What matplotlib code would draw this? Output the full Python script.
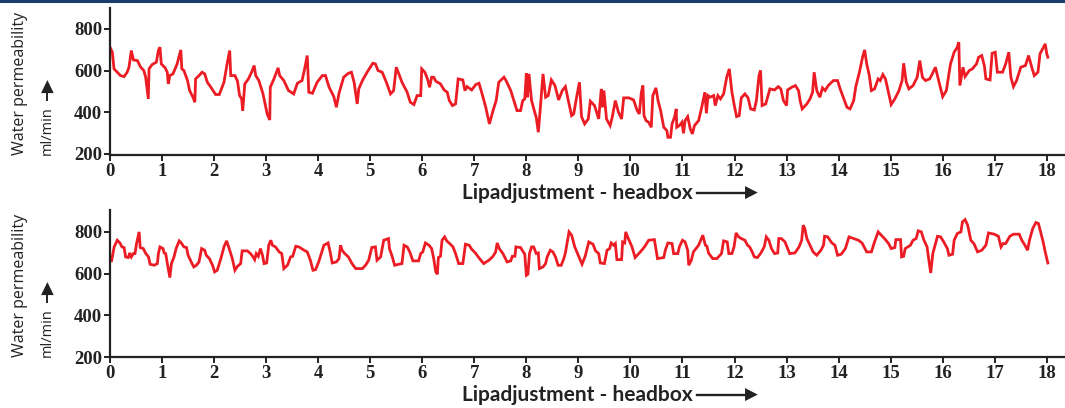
import numpy as np
import matplotlib.pyplot as plt
from matplotlib.lines import Line2D

# top panel: lip adjustment run 1 (x = position, y = water permeability ml/min)
x_top = [0, 0.045, 0.077, 0.14, 0.2, 0.27, 0.33, 0.365, 0.41, 0.45, 0.525, 0.59, 0.65, 0.685, 0.736, 0.75,
         0.81, 0.89, 0.93, 0.96, 0.985, 1.06, 1.1, 1.12, 1.15, 1.21, 1.29, 1.36, 1.38, 1.42, 1.49, 1.53,
         1.6, 1.63, 1.645, 1.71, 1.77, 1.82, 1.87, 1.93, 2.0, 2.03, 2.1, 2.19, 2.25, 2.3, 2.32, 2.4,
         2.45, 2.49, 2.53, 2.55, 2.59, 2.66, 2.72, 2.77, 2.8, 2.86, 2.94, 3.02, 3.07, 3.08, 3.15, 3.23,
         3.26, 3.34, 3.43, 3.53, 3.6, 3.69, 3.74, 3.79, 3.82, 3.89, 3.98, 4.08, 4.14, 4.21, 4.3, 4.35,
         4.4, 4.49, 4.58, 4.64, 4.69, 4.75, 4.78, 4.85, 4.94, 5.05, 5.1, 5.15, 5.23, 5.31, 5.39, 5.45,
         5.5, 5.55, 5.61, 5.71, 5.77, 5.84, 5.9, 5.97, 5.99, 6.05, 6.1, 6.14, 6.18, 6.22, 6.26, 6.35,
         6.42, 6.48, 6.52, 6.58, 6.64, 6.69, 6.78, 6.82, 6.86, 6.95, 7.03, 7.09, 7.15, 7.22, 7.29, 7.36,
         7.42, 7.47, 7.57, 7.61, 7.7, 7.76, 7.82, 7.89, 7.93, 7.97, 8.0, 8.02, 8.05, 8.1, 8.17, 8.19,
         8.23, 8.27, 8.32, 8.37, 8.42, 8.48, 8.55, 8.62, 8.69, 8.75, 8.82, 8.87, 8.91, 8.96, 9.02, 9.06,
         9.12, 9.19, 9.23, 9.31, 9.39, 9.44, 9.46, 9.49, 9.54, 9.61, 9.65, 9.71, 9.77, 9.83, 9.87, 9.97,
         10.06, 10.13, 10.17, 10.21, 10.24, 10.26, 10.3, 10.35, 10.4, 10.43, 10.49, 10.53, 10.58, 10.64,
         10.7, 10.72, 10.77, 10.8, 10.85, 10.88, 10.89, 10.94, 10.99, 11.02, 11.05, 11.1, 11.15, 11.19,
         11.23, 11.31, 11.37, 11.43, 11.46, 11.49, 11.53, 11.6, 11.63, 11.68, 11.73, 11.79, 11.85, 11.9,
         11.95, 12.0, 12.04, 12.09, 12.13, 12.2, 12.26, 12.31, 12.38, 12.42, 12.47, 12.5, 12.53, 12.6,
         12.68, 12.77, 12.84, 12.89, 12.94, 13.0, 13.02, 13.1, 13.17, 13.23, 13.26, 13.3, 13.39, 13.45,
         13.5, 13.53, 13.58, 13.64, 13.69, 13.74, 13.8, 13.9, 13.98, 14.03, 14.09, 14.16, 14.22, 14.29,
         14.33, 14.4, 14.46, 14.5, 14.54, 14.59, 14.63, 14.69, 14.76, 14.8, 14.85, 14.9, 14.95, 15.01,
         15.08, 15.16, 15.22, 15.25, 15.3, 15.35, 15.43, 15.51, 15.56, 15.61, 15.67, 15.75, 15.8, 15.86,
         15.93, 16.0, 16.07, 16.15, 16.22, 16.28, 16.31, 16.33, 16.39, 16.43, 16.51, 16.57, 16.65, 16.69,
         16.75, 16.8, 16.83, 16.91, 16.95, 17.01, 17.05, 17.15, 17.21, 17.27, 17.31, 17.36, 17.42, 17.5,
         17.59, 17.65, 17.72, 17.76, 17.83, 17.87, 17.92, 17.97, 18.0, 18.02]
y_top = [712, 688, 608, 592, 576, 571, 592, 616, 696, 651, 648, 616, 600, 568, 464, 608,
         629, 640, 696, 712, 632, 613, 592, 536, 576, 584, 632, 699, 608, 600, 552, 504,
         469, 448, 560, 576, 592, 584, 544, 523, 496, 485, 485, 544, 632, 696, 576, 576,
         549, 480, 464, 408, 536, 560, 592, 624, 576, 552, 488, 392, 363, 520, 560, 613,
         576, 552, 504, 488, 539, 552, 608, 672, 496, 491, 544, 576, 576, 520, 475, 424,
         491, 568, 587, 592, 544, 440, 512, 552, 592, 635, 632, 600, 592, 544, 488, 504,
         616, 584, 544, 496, 448, 437, 480, 480, 608, 592, 560, 520, 568, 568, 549, 536,
         507, 496, 456, 432, 440, 560, 555, 504, 523, 507, 533, 539, 488, 424, 344, 408,
         456, 544, 568, 552, 504, 456, 408, 408, 456, 464, 587, 472, 584, 456, 392, 376,
         304, 424, 584, 472, 480, 555, 528, 459, 504, 523, 440, 384, 392, 464, 544, 379,
         344, 368, 453, 432, 368, 512, 424, 504, 368, 336, 376, 456, 400, 368, 469, 469,
         459, 408, 392, 496, 528, 384, 360, 352, 328, 480, 517, 456, 408, 328,
         312, 280, 280, 344, 379, 416, 328, 336, 352, 299, 360, 379, 320, 296,
         336, 360, 424, 496, 395, 480, 472, 480, 432, 480, 464, 488, 568, 608,
         496, 427, 379, 384, 469, 488, 469, 416, 411, 456, 576, 600, 432, 440,
         512, 507, 523, 512, 456, 432, 507, 520, 528, 504, 456, 416, 440, 464,
         496, 592, 504, 472, 517, 504, 528, 552, 552, 512, 472, 424, 416, 456,
         523, 592, 664, 699, 632, 576, 504, 512, 560, 552, 581, 560, 504, 437,
         464, 504, 552, 635, 544, 512, 528, 568, 648, 568, 552, 560, 584, 616,
         544, 475, 504, 632, 688, 712, 736, 528, 616, 571, 600, 608, 632, 664,
         672, 624, 560, 555, 683, 688, 592, 592, 632, 688, 568, 523, 552, 616,
         624, 672, 608, 576, 592, 680, 704, 728, 680, 664]

# bottom panel: lip adjustment run 2
x_bot = [0, 0.03, 0.08, 0.14, 0.19, 0.23, 0.27, 0.3, 0.35, 0.38, 0.41, 0.45, 0.48, 0.51, 0.56, 0.58,
         0.64, 0.68, 0.74, 0.77, 0.85, 0.91, 0.93, 0.96, 1.02, 1.04, 1.07, 1.1, 1.15, 1.18, 1.23, 1.27,
         1.33, 1.37, 1.42, 1.47, 1.5, 1.57, 1.61, 1.66, 1.71, 1.76, 1.82, 1.85, 1.91, 1.97, 2.01, 2.06,
         2.13, 2.19, 2.24, 2.29, 2.35, 2.4, 2.45, 2.51, 2.54, 2.64, 2.7, 2.75, 2.78, 2.81, 2.85, 2.89,
         2.93, 2.96, 3.01, 3.05, 3.09, 3.12, 3.18, 3.25, 3.3, 3.34, 3.41, 3.47, 3.51, 3.57, 3.63, 3.73,
         3.79, 3.85, 3.9, 3.95, 4.01, 4.11, 4.19, 4.23, 4.27, 4.35, 4.4, 4.43, 4.46, 4.51, 4.58, 4.65,
         4.72, 4.85, 4.91, 4.97, 5.03, 5.1, 5.13, 5.2, 5.26, 5.35, 5.37, 5.42, 5.47, 5.55, 5.61, 5.65,
         5.71, 5.76, 5.82, 5.93, 5.97, 6.01, 6.06, 6.13, 6.18, 6.22, 6.26, 6.29, 6.31, 6.35, 6.38, 6.43,
         6.47, 6.54, 6.59, 6.64, 6.7, 6.78, 6.83, 6.9, 6.95, 7.02, 7.1, 7.18, 7.28, 7.36, 7.41, 7.44,
         7.48, 7.55, 7.63, 7.7, 7.73, 7.78, 7.8, 7.89, 7.92, 7.97, 8.0, 8.03, 8.06, 8.1, 8.14, 8.19,
         8.23, 8.25, 8.32, 8.37, 8.4, 8.46, 8.51, 8.56, 8.61, 8.67, 8.72, 8.75, 8.82, 8.87, 8.93, 8.99,
         9.07, 9.13, 9.2, 9.28, 9.33, 9.39, 9.42, 9.5, 9.55, 9.6, 9.63, 9.68, 9.71, 9.74, 9.83, 9.85,
         9.89, 9.91, 9.96, 10.03, 10.09, 10.19, 10.27, 10.35, 10.46, 10.52, 10.64, 10.67, 10.72, 10.8,
         10.83, 10.91, 10.94, 11.0, 11.05, 11.1, 11.12, 11.17, 11.21, 11.31, 11.39, 11.44, 11.47, 11.5,
         11.58, 11.66, 11.75, 11.79, 11.86, 11.89, 11.95, 11.99, 12.03, 12.08, 12.13, 12.2, 12.25, 12.29,
         12.34, 12.38, 12.44, 12.5, 12.57, 12.61, 12.66, 12.71, 12.77, 12.83, 12.85, 12.9, 12.97, 13.02,
         13.06, 13.16, 13.24, 13.29, 13.32, 13.35, 13.39, 13.45, 13.51, 13.58, 13.66, 13.71, 13.73, 13.79,
         13.87, 13.93, 13.98, 14.05, 14.13, 14.2, 14.29, 14.38, 14.45, 14.54, 14.63, 14.69, 14.76, 14.82,
         14.9, 14.96, 15.01, 15.08, 15.1, 15.19, 15.21, 15.25, 15.28, 15.38, 15.43, 15.49, 15.53, 15.59,
         15.64, 15.7, 15.73, 15.77, 15.81, 15.9, 15.96, 16.02, 16.09, 16.12, 16.19, 16.22, 16.28, 16.35,
         16.38, 16.43, 16.48, 16.54, 16.6, 16.67, 16.75, 16.83, 16.88, 16.99, 17.07, 17.12, 17.16, 17.21,
         17.29, 17.36, 17.47, 17.52, 17.58, 17.63, 17.67, 17.73, 17.79, 17.84, 17.88, 17.93, 17.97, 18.02]
y_bot = [661, 661, 728, 760, 747, 728, 725, 680, 677, 699, 680, 696, 696, 744, 800, 725,
         720, 699, 680, 645, 640, 648, 696, 728, 720, 699, 696, 651, 581, 648, 680, 720,
         757, 747, 728, 725, 688, 651, 632, 640, 656, 720, 712, 688, 672, 640, 608, 616,
         672, 728, 757, 720, 672, 616, 635, 648, 709, 709, 696, 680, 667, 696, 683, 720,
         688, 648, 651, 736, 760, 736, 728, 704, 696, 624, 640, 680, 683, 731, 728, 712,
         704, 664, 616, 619, 656, 736, 747, 704, 651, 656, 672, 736, 712, 696, 680, 648,
         624, 624, 640, 664, 725, 728, 664, 680, 760, 768, 720, 683, 640, 645, 648, 736,
         728, 704, 661, 661, 696, 704, 747, 736, 720, 672, 608, 597, 677, 683, 760, 776,
         757, 741, 728, 696, 648, 648, 741, 736, 717, 699, 672, 648, 664, 683, 704, 747,
         720, 696, 656, 661, 683, 683, 728, 725, 712, 693, 592, 597, 696, 728, 728, 696,
         699, 624, 632, 648, 680, 712, 704, 680, 640, 640, 672, 699, 800, 784, 728, 693,
         645, 683, 752, 741, 709, 696, 651, 648, 712, 720, 747, 736, 744, 667, 667, 752,
         747, 800, 768, 728, 677, 704, 728, 760, 763, 672, 677, 712, 747, 744,
         696, 696, 728, 760, 752, 712, 640, 664, 704, 736, 784, 736, 731, 699,
         672, 672, 696, 757, 752, 696, 696, 728, 795, 776, 768, 760, 736, 728,
         704, 680, 677, 696, 728, 776, 760, 720, 696, 699, 768, 768, 752, 720,
         696, 699, 728, 760, 832, 816, 768, 736, 704, 688, 712, 736, 779, 776,
         747, 736, 688, 693, 720, 776, 768, 760, 747, 704, 704, 752, 800, 784,
         763, 744, 720, 725, 763, 763, 680, 683, 720, 736, 760, 768, 805, 800,
         760, 728, 672, 603, 696, 779, 776, 752, 720, 688, 693, 760, 792, 800,
         848, 859, 832, 760, 744, 704, 712, 736, 795, 789, 779, 728, 744, 744,
         779, 789, 789, 760, 736, 712, 763, 816, 845, 840, 800, 752, 704, 651]

xticks = list(range(0, 19))
yticks = [200, 400, 600, 800]

W, H = 1065, 408
fig = plt.figure(figsize=(W / 100, H / 100), dpi=100)

red = '#ec1c24'
axcol = '#222222'
tickfont = dict(family='Liberation Serif', weight='bold', size=13.5)

# axes boxes in pixels: (left, top, bottom)
boxes = [(110, 8, 155), (110, 210, 357)]
ylims = [(195, 900), (200, 905)]
data = [(x_top, y_top), (x_bot, y_bot)]


def px(x, y):
    # pixel position -> figure fraction
    return x / W, 1 - y / H


for (left, top, bottom), yl, (xs, ys) in zip(boxes, ylims, data):
    ax = fig.add_axes([left / W, 1 - bottom / H, (W - left) / W, (bottom - top) / H])
    ax.plot(xs, ys, color=red, lw=2.0, solid_joinstyle='miter')
    ax.set_xlim(0, 18.35)
    ax.set_ylim(*yl)
    ax.set_xticks(xticks)
    ax.set_yticks(yticks)
    ax.set_xticklabels([str(t) for t in xticks], fontdict=tickfont)
    ax.set_yticklabels([str(t) for t in yticks], fontdict=tickfont)
    for s in ['top', 'right']:
        ax.spines[s].set_visible(False)
    for s in ['left', 'bottom']:
        ax.spines[s].set_color(axcol)
        ax.spines[s].set_linewidth(1.6)
    ax.tick_params(axis='both', direction='out', length=4, width=1.4, color=axcol,
                   labelcolor='#222222', pad=1.5)

    # x label with arrow
    yl_px = bottom + 38
    fig.text(*px(693, yl_px), 'Lipadjustment - headbox', ha='right', va='center',
             family='Lato', weight='bold', size=15, color='#222222')
    fig.add_artist(Line2D([697 / W, 748 / W], [1 - yl_px / H] * 2, color='#222222', lw=1.7))
    fig.text(*px(751, yl_px), '\u25B6', ha='center', va='center', size=12, color='#222222',
             family='DejaVu Sans')

    # y label: two rotated lines and an up arrow
    fig.text(*px(20, bottom), 'Water permeability', rotation=90, ha='center', va='bottom',
             family='Open Sans', size=11.5, color='#222222')
    fig.text(*px(47, bottom), 'ml/min', rotation=90, ha='center', va='bottom',
             family='Open Sans', size=10.5, color='#222222')
    fig.add_artist(Line2D([47 / W, 47 / W], [1 - (bottom - 55) / H, 1 - (bottom - 66) / H],
                          color='#222222', lw=1.4))
    fig.text(*px(47, bottom - 68), '\u25B2', ha='center', va='center', size=12,
             color='#222222', family='DejaVu Sans')

# navy rule at the top
fig.add_artist(Line2D([0, 1], [1 - 1 / H, 1 - 1 / H], color='#1c3b6f', lw=2.2))

fig.savefig('out.png', dpi=100)
